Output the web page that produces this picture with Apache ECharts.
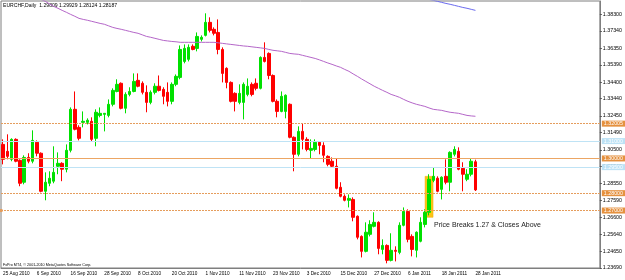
<!DOCTYPE html>
<html lang="en">
<head>
<meta charset="UTF-8">
<title>EURCHF Daily</title>
<script src="https://cdn.jsdelivr.net/npm/echarts@6/dist/echarts.min.js"></script>
<style>
    html, body { margin: 0; padding: 0; background: #FFFFFF; }
    #main { width: 625px; height: 280px; }
</style>
</head>
<body>
<div id="main"></div>
<script>
    // daily bars, 25 Aug 2010 .. 28 Jan 2011
    var dates = [
        '25 Aug 2010','26 Aug 2010','27 Aug 2010','30 Aug 2010','31 Aug 2010',
        '1 Sep 2010','2 Sep 2010','3 Sep 2010','6 Sep 2010','7 Sep 2010','8 Sep 2010','9 Sep 2010','10 Sep 2010',
        '13 Sep 2010','14 Sep 2010','15 Sep 2010','16 Sep 2010','17 Sep 2010','20 Sep 2010','21 Sep 2010','22 Sep 2010',
        '23 Sep 2010','24 Sep 2010','27 Sep 2010','28 Sep 2010','29 Sep 2010','30 Sep 2010',
        '1 Oct 2010','4 Oct 2010','5 Oct 2010','6 Oct 2010','7 Oct 2010','8 Oct 2010','11 Oct 2010','12 Oct 2010',
        '13 Oct 2010','14 Oct 2010','15 Oct 2010','18 Oct 2010','19 Oct 2010','20 Oct 2010','21 Oct 2010','22 Oct 2010',
        '25 Oct 2010','26 Oct 2010','27 Oct 2010','28 Oct 2010','29 Oct 2010',
        '1 Nov 2010','2 Nov 2010','3 Nov 2010','4 Nov 2010','5 Nov 2010','8 Nov 2010','9 Nov 2010','10 Nov 2010',
        '11 Nov 2010','12 Nov 2010','15 Nov 2010','16 Nov 2010','17 Nov 2010','18 Nov 2010','19 Nov 2010','22 Nov 2010',
        '23 Nov 2010','24 Nov 2010','25 Nov 2010','26 Nov 2010','29 Nov 2010','30 Nov 2010',
        '1 Dec 2010','2 Dec 2010','3 Dec 2010','6 Dec 2010','7 Dec 2010','8 Dec 2010','9 Dec 2010','10 Dec 2010',
        '13 Dec 2010','14 Dec 2010','15 Dec 2010','16 Dec 2010','17 Dec 2010','20 Dec 2010','21 Dec 2010','22 Dec 2010',
        '23 Dec 2010','24 Dec 2010','27 Dec 2010','28 Dec 2010','29 Dec 2010','30 Dec 2010','31 Dec 2010',
        '3 Jan 2011','4 Jan 2011','5 Jan 2011','6 Jan 2011','7 Jan 2011','10 Jan 2011','11 Jan 2011','12 Jan 2011',
        '13 Jan 2011','14 Jan 2011','17 Jan 2011','18 Jan 2011','19 Jan 2011','20 Jan 2011','21 Jan 2011','24 Jan 2011',
        '25 Jan 2011','26 Jan 2011','27 Jan 2011','28 Jan 2011'
    ];

    var open = [
        1.3081,1.3041,1.2995,1.3110,1.2989,1.2863,1.3006,1.2984,1.3093,1.3030,
        1.2811,1.2857,1.2869,1.2955,1.2972,1.2938,1.3047,1.3283,1.3179,1.3208,
        1.3208,1.3214,1.3116,1.3248,1.3254,1.3248,1.3312,1.3386,1.3433,1.3289,
        1.3369,1.3386,1.3450,1.3433,1.3381,1.3323,1.3381,1.3416,1.3398,1.3381,
        1.3329,1.3427,1.3467,1.3559,1.3571,1.3646,1.3634,1.3686,1.3709,1.3784,
        1.3744,1.3726,1.3628,1.3519,1.3438,1.3375,1.3323,1.3323,1.3369,1.3427,
        1.3433,1.3404,1.3582,1.3605,1.3478,1.3329,1.3271,1.3271,1.3312,1.3122,
        1.3024,1.3156,1.3110,1.3047,1.3052,1.3093,1.3075,1.3012,1.2984,1.2955,
        1.2834,1.2782,1.2759,1.2764,1.2667,1.2551,1.2465,1.2563,1.2609,1.2632,
        1.2476,1.2499,1.2413,1.2471,1.2459,1.2615,1.2695,1.2551,1.2471,1.2523,
        1.2620,1.2690,1.2874,1.2886,1.2822,1.2897,1.2863,1.3024,1.3041,1.2943,
        1.2880,1.2909,1.29809
    ];
    var high = [
        1.3110,1.3139,1.3116,1.3116,1.2995,1.3018,1.3030,1.3162,1.3104,1.3035,
        1.2920,1.2926,1.3070,1.3035,1.2978,1.3081,1.3294,1.3386,1.3191,1.3271,
        1.3231,1.3237,1.3283,1.3294,1.3260,1.3340,1.3404,1.3456,1.3438,1.3381,
        1.3410,1.3490,1.3490,1.3444,1.3421,1.3392,1.3433,1.3478,1.3410,1.3438,
        1.3438,1.3484,1.3651,1.3657,1.3657,1.3657,1.3726,1.3709,1.3836,1.3813,
        1.3755,1.3801,1.3640,1.3525,1.3444,1.3381,1.3427,1.3438,1.3461,1.3438,
        1.3461,1.3588,1.3669,1.3611,1.3484,1.3340,1.3386,1.3369,1.3317,1.3127,
        1.3185,1.3202,1.3122,1.3110,1.3110,1.3098,1.3093,1.3018,1.3006,1.3001,
        1.2863,1.2793,1.2793,1.2776,1.2672,1.2557,1.2632,1.2644,1.2690,1.2638,
        1.2534,1.2505,1.2569,1.2494,1.2632,1.2718,1.2707,1.2563,1.2580,1.2661,
        1.2707,1.2909,1.2949,1.2897,1.2897,1.2995,1.3041,1.3070,1.3064,1.2978,
        1.2938,1.3001,1.29929
    ];
    var low = [
        1.2966,1.2995,1.2984,1.2978,1.2840,1.2851,1.2972,1.2972,1.3012,1.2805,
        1.2759,1.2840,1.2857,1.2909,1.2869,1.2920,1.3035,1.3162,1.3104,1.3179,
        1.3196,1.3098,1.3070,1.3237,1.3156,1.3237,1.3300,1.3381,1.3283,1.3260,
        1.3358,1.3381,1.3410,1.3369,1.3266,1.3312,1.3369,1.3386,1.3312,1.3300,
        1.3312,1.3416,1.3456,1.3548,1.3559,1.3623,1.3617,1.3674,1.3703,1.3726,
        1.3709,1.3600,1.3438,1.3404,1.3323,1.3271,1.3312,1.3225,1.3358,1.3358,
        1.3392,1.3398,1.3553,1.3456,1.3323,1.3237,1.3266,1.3231,1.3116,1.2926,
        1.3012,1.3052,1.3041,1.3001,1.3041,1.3024,1.2978,1.2955,1.2949,1.2822,
        1.2776,1.2753,1.2718,1.2638,1.2534,1.2430,1.2459,1.2551,1.2603,1.2448,
        1.2448,1.2396,1.2407,1.2407,1.2448,1.2609,1.2517,1.2436,1.2430,1.2517,
        1.2603,1.2672,1.2863,1.2805,1.2764,1.2851,1.2811,1.3012,1.2932,1.2811,
        1.2869,1.2897,1.28124
    ];
    var close = [
        1.2995,1.3012,1.3110,1.2984,1.2857,1.3006,1.2984,1.3104,1.3030,1.2811,
        1.2863,1.2886,1.2920,1.2972,1.2938,1.3047,1.3283,1.3168,1.3116,1.3214,
        1.3220,1.3110,1.3266,1.3260,1.3260,1.3312,1.3392,1.3427,1.3289,1.3369,
        1.3386,1.3444,1.3416,1.3381,1.3323,1.3381,1.3416,1.3392,1.3358,1.3329,
        1.3427,1.3473,1.3628,1.3634,1.3640,1.3628,1.3703,1.3698,1.3784,1.3738,
        1.3721,1.3628,1.3490,1.3438,1.3329,1.3329,1.3375,1.3427,1.3416,1.3369,
        1.3404,1.3582,1.3559,1.3478,1.3329,1.3271,1.3358,1.3364,1.3122,1.3024,
        1.3156,1.3110,1.3052,1.3058,1.3093,1.3075,1.3018,1.2966,1.2955,1.2828,
        1.2782,1.2759,1.2770,1.2661,1.2546,1.2465,1.2575,1.2620,1.2632,1.2482,
        1.2499,1.2413,1.2471,1.2465,1.2615,1.2695,1.2534,1.2476,1.2575,1.2632,
        1.2690,1.2880,1.2897,1.2811,1.2892,1.2863,1.3035,1.3052,1.2938,1.2909,
        1.2909,1.2984,1.28187
    ];

    // moving averages (purple = shorter one, blue = longer one, only its tail is on screen)
    var maShort = [
        1.4060,1.4043,1.4026,1.4009,1.3991,1.3974,1.3957,1.3942,1.3928,1.3916,
        1.3905,1.3890,1.3876,1.3865,1.3853,1.3842,1.3830,1.3819,1.3807,1.3801,
        1.3796,1.3790,1.3784,1.3778,1.3773,1.3764,1.3755,1.3749,1.3744,1.3738,
        1.3732,1.3726,1.3721,1.3712,1.3703,1.3698,1.3692,1.3686,1.3680,1.3677,
        1.3674,1.3672,1.3669,1.3669,1.3669,1.3669,1.3669,1.3669,1.3669,1.3669,
        1.3669,1.3666,1.3663,1.3660,1.3657,1.3654,1.3651,1.3648,1.3646,1.3643,
        1.3640,1.3637,1.3634,1.3628,1.3623,1.3620,1.3617,1.3611,1.3605,1.3602,
        1.3600,1.3594,1.3588,1.3582,1.3576,1.3568,1.3559,1.3550,1.3542,1.3533,
        1.3525,1.3513,1.3502,1.3487,1.3473,1.3458,1.3444,1.3430,1.3416,1.3404,
        1.3392,1.3381,1.3369,1.3361,1.3352,1.3340,1.3329,1.3320,1.3312,1.3306,
        1.3300,1.3291,1.3283,1.3280,1.3277,1.3271,1.3266,1.3263,1.3260,1.3254,
        1.3248,1.3245,1.3243
    ];
    var maLongStart = 95;
    var maLong = [
        1.3951,1.3945,1.3939,1.3934,1.3928,1.3922,1.3916,1.3911,1.3905,
        1.3899,1.3893,1.3888,1.3882,1.3876,1.3870,1.3865,1.3859,1.3853
    ];

    // horizontal levels drawn on the chart
    var dottedLevels = [1.32005, 1.28000, 1.27000];
    var solidLevels = [1.30000];
    var blueLevels = [1.31000, 1.29500];

    var yTicks = [1.38300, 1.37340, 1.36350, 1.35390, 1.34400, 1.33440, 1.32450, 1.31490,
                  1.30500, 1.29540, 1.28550, 1.27590, 1.26600, 1.25640, 1.24650, 1.23690];

    // breakout candle highlight
    var breakoutBar = 101;
    var breakoutTop = 1.2897;
    var breakoutBottom = 1.2661;
    var noteText = 'Price Breaks 1.27 & Closes Above';

    var FONT = '"Liberation Sans", Arial, sans-serif';
    var SLOTS = 142; // bars that fit in the window incl. the empty shift on the right

    var cats = dates.slice();
    while (cats.length < SLOTS) cats.push('');

    var candles = dates.map(function (d, i) {
        return [open[i], close[i], low[i], high[i]];
    });
    var maLongData = dates.map(function (d, i) {
        return i < maLongStart ? null : maLong[i - maLongStart];
    });
    var last = dates.length - 1;
    var headText = 'EURCHF,Daily  ' + [open[last], high[last], low[last], close[last]]
        .map(function (v) { return v.toFixed(5); }).join(' ');

    function priceLabel(v, bg) {
        return {
            show: true, position: 'end', distance: 2,
            formatter: v.toFixed(5),
            backgroundColor: bg, color: '#FFFFFF',
            fontSize: 5.3, fontFamily: FONT, padding: [1, 2, 0, 2]
        };
    }

    var lines = [];
    blueLevels.forEach(function (v) {
        lines.push({ yAxis: v, lineStyle: { color: '#bfe3f5', type: 'solid', width: 1 },
            label: priceLabel(v, '#bde2f5') });
    });
    solidLevels.forEach(function (v) {
        lines.push({ yAxis: v, lineStyle: { color: '#eca664', type: 'solid', width: 1 },
            label: priceLabel(v, '#e5913f') });
    });
    dottedLevels.forEach(function (v) {
        var item = { yAxis: v, lineStyle: { color: '#e59d5c', type: [2, 1], width: 1 },
            label: priceLabel(v, '#e5913f') };
        if (v === 1.27000) { item.symbol = 'rect'; item.symbolSize = 3; }
        lines.push(item);
    });
    // bid price marker, no line
    lines.push({ yAxis: close[last], lineStyle: { opacity: 0 }, label: priceLabel(close[last], '#000000') });

    var chart = echarts.init(document.getElementById('main'));
    var option = {
        animation: false,
        backgroundColor: '#FFFFFF',
        grid: { left: 1, right: 21, top: 1, bottom: 12, show: true, borderColor: '#7f7f7f', borderWidth: 1 },
        xAxis: {
            type: 'category',
            data: cats,
            boundaryGap: true,
            axisLine: { lineStyle: { color: '#7f7f7f' } },
            axisTick: {
                length: 3, alignWithLabel: true, lineStyle: { color: '#555' },
                interval: function (i, v) { return i % 8 === 0 && v !== ''; }
            },
            axisLabel: {
                interval: function (i, v) { return i % 8 === 0 && v !== ''; },
                align: 'left', margin: 3, color: '#000', fontSize: 4.7, fontFamily: FONT
            },
            splitLine: { show: false }
        },
        yAxis: {
            type: 'value',
            position: 'right',
            min: 1.2369,
            max: 1.3907,
            scale: true,
            axisLine: { show: true, lineStyle: { color: '#7f7f7f' } },
            axisTick: { show: true, length: 2, customValues: yTicks, lineStyle: { color: '#555' } },
            axisLabel: {
                customValues: yTicks, margin: 3, color: '#000', fontSize: 5.3, fontFamily: FONT,
                formatter: function (v) { return v.toFixed(5); }
            },
            splitLine: { show: false }
        },
        graphic: [
            { type: 'text', left: 3, top: 3, silent: true,
              style: { text: headText, fontSize: 5.1, fontFamily: FONT, fill: '#000' } },
            { type: 'text', left: 3, top: 263, silent: true,
              style: { text: 'FxPro MT4, \u00a9 2001-2010 MetaQuotes Software Corp.', fontSize: 3.7, fontFamily: FONT, fill: '#000' } },
            { type: 'text', left: 434, top: 222, silent: true,
              style: { text: noteText, fontSize: 7, fontFamily: FONT, fill: '#222' } }
        ],
        series: [
            {
                type: 'custom',
                z: 1,
                silent: true,
                data: [[breakoutBar, breakoutTop, breakoutBottom]],
                renderItem: function (params, api) {
                    var top = api.coord([api.value(0), api.value(1)]);
                    var bottom = api.coord([api.value(0), api.value(2)]);
                    var band = api.size([1, 0])[0];
                    return {
                        type: 'rect',
                        shape: { x: top[0] - band * 0.95, y: top[1], width: band * 1.9, height: bottom[1] - top[1] },
                        style: { fill: '#fcc412', stroke: '#f0a818', lineWidth: 0.5 }
                    };
                }
            },
            {
                type: 'candlestick',
                data: candles,
                barWidth: 3,
                z: 3,
                silent: true,
                itemStyle: {
                    color: '#00e000', color0: '#ff0000',
                    borderColor: '#00e000', borderColor0: '#ff0000', borderWidth: 1
                },
                markLine: {
                    silent: true,
                    symbol: 'none',
                    precision: 5,
                    animation: false,
                    data: lines
                }
            },
            {
                type: 'line', data: maShort, showSymbol: false, symbol: 'none', silent: true, z: 4,
                lineStyle: { color: '#b466c8', width: 1 }
            },
            {
                type: 'line', data: maLongData, showSymbol: false, symbol: 'none', silent: true, z: 4,
                lineStyle: { color: '#6a6aee', width: 1 }
            }
        ]
    };
    chart.setOption(option);
</script>
</body>
</html>
